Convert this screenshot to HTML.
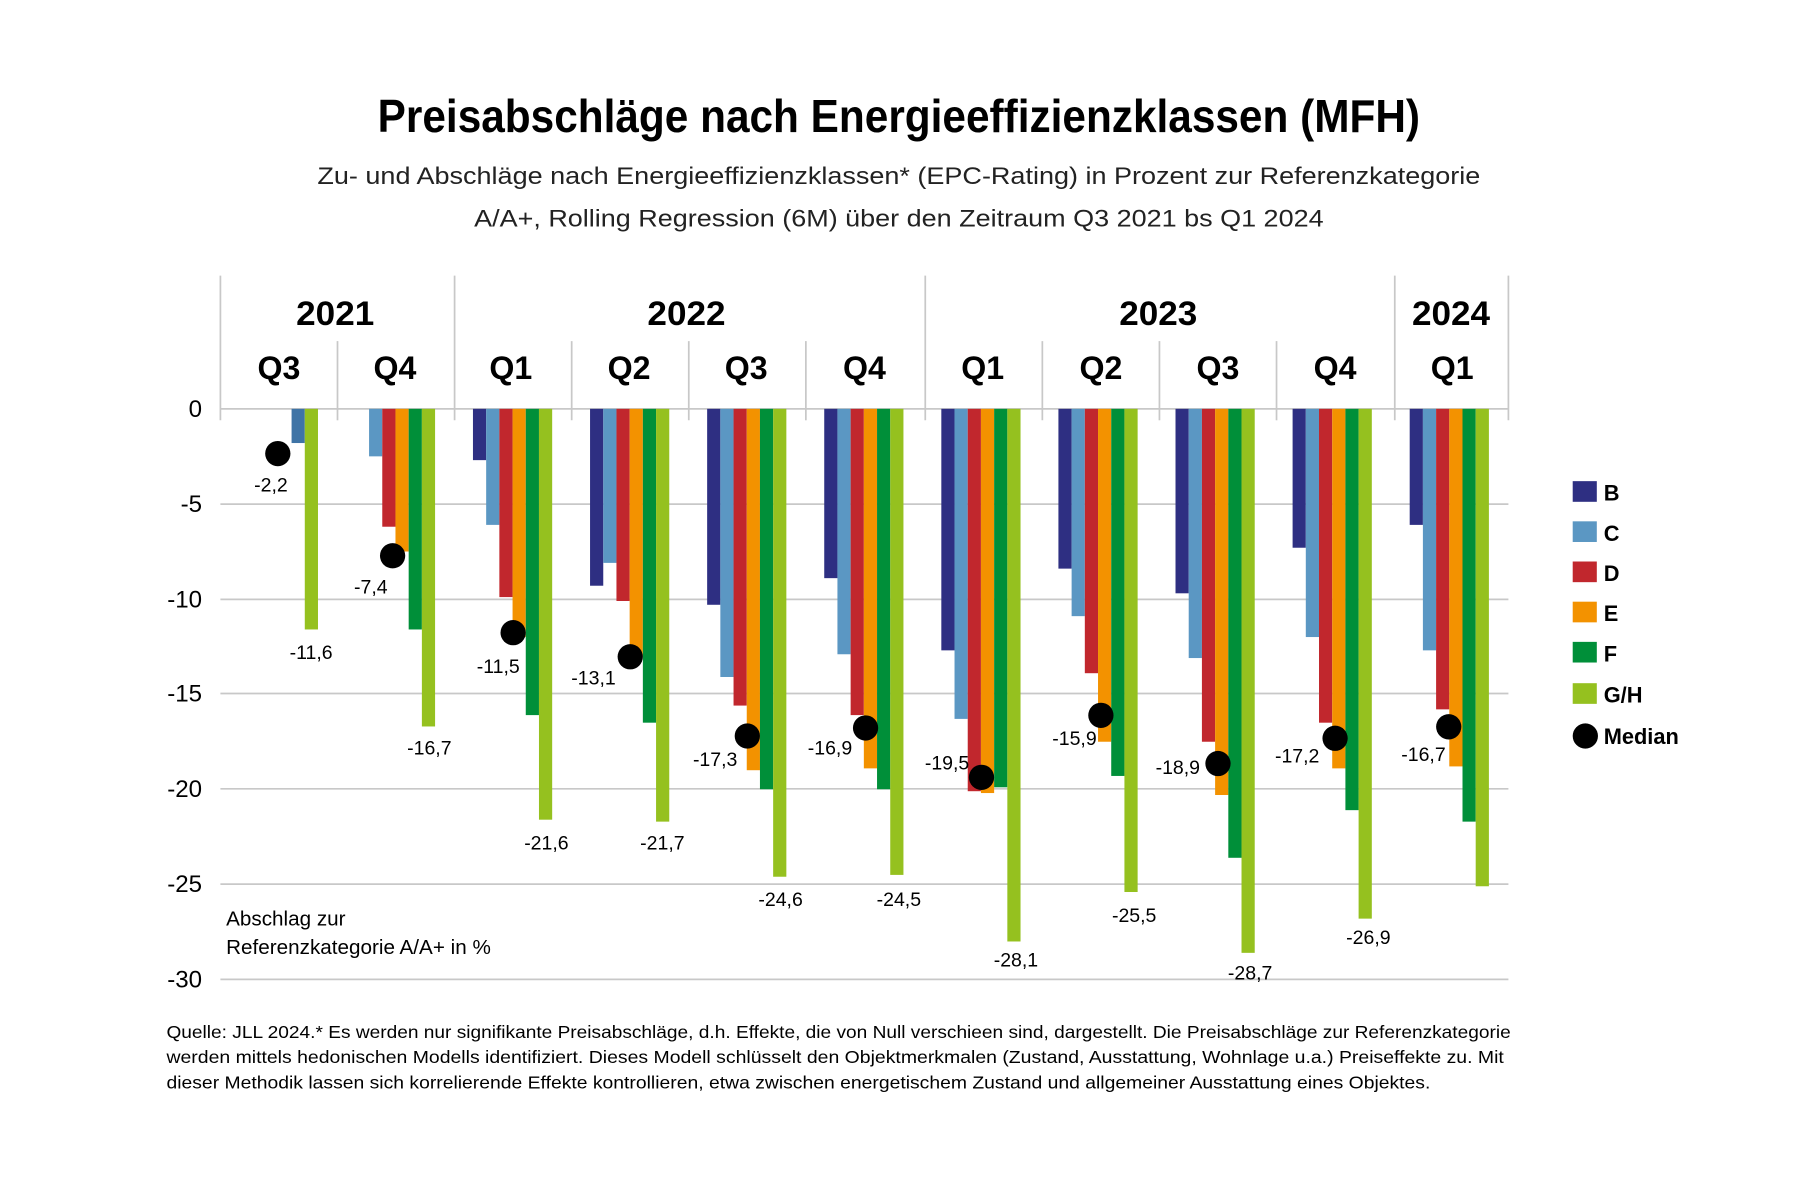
<!DOCTYPE html>
<html><head><meta charset="utf-8"><style>html,body{margin:0;padding:0;background:#fff}svg{display:block}</style></head>
<body>
<svg width="1800" height="1185" viewBox="0 0 1568 1032" xmlns="http://www.w3.org/2000/svg" font-family="Liberation Sans, sans-serif">
<rect width="1568" height="1032" fill="#fff"/>
<text x="783" y="115" text-anchor="middle" font-size="40" font-weight="bold" textLength="908" lengthAdjust="spacingAndGlyphs">Preisabschläge nach Energieeffizienzklassen (MFH)</text>
<text x="783" y="160" text-anchor="middle" font-size="21" fill="#222" textLength="1013" lengthAdjust="spacingAndGlyphs">Zu- und Abschläge nach Energieeffizienzklassen* (EPC-Rating) in Prozent zur Referenzkategorie</text>
<text x="783" y="197" text-anchor="middle" font-size="21" fill="#222" textLength="740" lengthAdjust="spacingAndGlyphs">A/A+, Rolling Regression (6M) über den Zeitraum Q3 2021 bs Q1 2024</text>
<g stroke="#c8c8c8" stroke-width="1.5">
<line x1="192" y1="356" x2="1314" y2="356"/><line x1="192" y1="439" x2="1314" y2="439"/><line x1="192" y1="522" x2="1314" y2="522"/><line x1="192" y1="604" x2="1314" y2="604"/><line x1="192" y1="687" x2="1314" y2="687"/><line x1="192" y1="770" x2="1314" y2="770"/><line x1="192" y1="853" x2="1314" y2="853"/>
<line x1="192" y1="240" x2="192" y2="366"/><line x1="396" y1="240" x2="396" y2="366"/><line x1="806" y1="240" x2="806" y2="366"/><line x1="1215" y1="240" x2="1215" y2="366"/><line x1="1314" y1="240" x2="1314" y2="366"/>
<line x1="294" y1="297" x2="294" y2="366"/><line x1="498" y1="297" x2="498" y2="366"/><line x1="600" y1="297" x2="600" y2="366"/><line x1="702" y1="297" x2="702" y2="366"/><line x1="908" y1="297" x2="908" y2="366"/><line x1="1010" y1="297" x2="1010" y2="366"/><line x1="1112" y1="297" x2="1112" y2="366"/>
</g>
<g font-size="30" font-weight="bold" text-anchor="middle">
<text x="292" y="283" textLength="68" lengthAdjust="spacingAndGlyphs">2021</text><text x="598" y="283" textLength="68" lengthAdjust="spacingAndGlyphs">2022</text><text x="1009" y="283" textLength="68" lengthAdjust="spacingAndGlyphs">2023</text><text x="1264" y="283" textLength="68" lengthAdjust="spacingAndGlyphs">2024</text>
</g>
<g font-size="28" font-weight="bold" text-anchor="middle">
<text x="243" y="330">Q3</text><text x="344" y="330">Q4</text><text x="445" y="330">Q1</text><text x="548" y="330">Q2</text><text x="650" y="330">Q3</text><text x="753" y="330">Q4</text><text x="856" y="330">Q1</text><text x="959" y="330">Q2</text><text x="1061" y="330">Q3</text><text x="1163" y="330">Q4</text><text x="1265" y="330">Q1</text>
</g>
<g font-size="21" text-anchor="end">
<text x="176" y="363">0</text><text x="176" y="446">-5</text><text x="176" y="529">-10</text><text x="176" y="611">-15</text><text x="176" y="694">-20</text><text x="176" y="777">-25</text><text x="176" y="860">-30</text>
</g>
<g>
<rect x="254" y="356" width="11.5" height="29.8" fill="#3f74a6"/><rect x="265.5" y="356" width="11.5" height="192.2" fill="#95c11f"/>
<rect x="321.5" y="356" width="11.5" height="41.4" fill="#5b97c3"/><rect x="333" y="356" width="11.5" height="102.7" fill="#c1272d"/><rect x="344.5" y="356" width="11.5" height="124.3" fill="#f39200"/><rect x="356" y="356" width="11.5" height="192.2" fill="#008f39"/><rect x="367.5" y="356" width="11.5" height="276.7" fill="#95c11f"/>
<rect x="412" y="356" width="11.5" height="44.7" fill="#2e2f82"/><rect x="423.5" y="356" width="11.5" height="101.1" fill="#5b97c3"/><rect x="435" y="356" width="11.5" height="164" fill="#c1272d"/><rect x="446.5" y="356" width="11.5" height="198.8" fill="#f39200"/><rect x="458" y="356" width="11.5" height="266.8" fill="#008f39"/><rect x="469.5" y="356" width="11.5" height="357.9" fill="#95c11f"/>
<rect x="514" y="356" width="11.5" height="154.1" fill="#2e2f82"/><rect x="525.5" y="356" width="11.5" height="134.2" fill="#5b97c3"/><rect x="537" y="356" width="11.5" height="167.4" fill="#c1272d"/><rect x="548.5" y="356" width="11.5" height="215.4" fill="#f39200"/><rect x="560" y="356" width="11.5" height="273.4" fill="#008f39"/><rect x="571.5" y="356" width="11.5" height="359.6" fill="#95c11f"/>
<rect x="616" y="356" width="11.5" height="170.7" fill="#2e2f82"/><rect x="627.5" y="356" width="11.5" height="233.6" fill="#5b97c3"/><rect x="639" y="356" width="11.5" height="258.5" fill="#c1272d"/><rect x="650.5" y="356" width="11.5" height="314.8" fill="#f39200"/><rect x="662" y="356" width="11.5" height="331.4" fill="#008f39"/><rect x="673.5" y="356" width="11.5" height="407.6" fill="#95c11f"/>
<rect x="718" y="356" width="11.5" height="147.5" fill="#2e2f82"/><rect x="729.5" y="356" width="11.5" height="213.8" fill="#5b97c3"/><rect x="741" y="356" width="11.5" height="266.8" fill="#c1272d"/><rect x="752.5" y="356" width="11.5" height="313.2" fill="#f39200"/><rect x="764" y="356" width="11.5" height="331.4" fill="#008f39"/><rect x="775.5" y="356" width="11.5" height="406" fill="#95c11f"/>
<rect x="820" y="356" width="11.5" height="210.4" fill="#2e2f82"/><rect x="831.5" y="356" width="11.5" height="270.1" fill="#5b97c3"/><rect x="843" y="356" width="11.5" height="333.1" fill="#c1272d"/><rect x="854.5" y="356" width="11.5" height="334.7" fill="#f39200"/><rect x="866" y="356" width="11.5" height="329.7" fill="#008f39"/><rect x="877.5" y="356" width="11.5" height="464" fill="#95c11f"/>
<rect x="922" y="356" width="11.5" height="139.2" fill="#2e2f82"/><rect x="933.5" y="356" width="11.5" height="180.6" fill="#5b97c3"/><rect x="945" y="356" width="11.5" height="230.3" fill="#c1272d"/><rect x="956.5" y="356" width="11.5" height="290" fill="#f39200"/><rect x="968" y="356" width="11.5" height="319.8" fill="#008f39"/><rect x="979.5" y="356" width="11.5" height="420.9" fill="#95c11f"/>
<rect x="1024" y="356" width="11.5" height="160.7" fill="#2e2f82"/><rect x="1035.5" y="356" width="11.5" height="217.1" fill="#5b97c3"/><rect x="1047" y="356" width="11.5" height="290" fill="#c1272d"/><rect x="1058.5" y="356" width="11.5" height="336.4" fill="#f39200"/><rect x="1070" y="356" width="11.5" height="391.1" fill="#008f39"/><rect x="1081.5" y="356" width="11.5" height="473.9" fill="#95c11f"/>
<rect x="1126" y="356" width="11.5" height="121" fill="#2e2f82"/><rect x="1137.5" y="356" width="11.5" height="198.8" fill="#5b97c3"/><rect x="1149" y="356" width="11.5" height="273.4" fill="#c1272d"/><rect x="1160.5" y="356" width="11.5" height="313.2" fill="#f39200"/><rect x="1172" y="356" width="11.5" height="349.6" fill="#008f39"/><rect x="1183.5" y="356" width="11.5" height="444.1" fill="#95c11f"/>
<rect x="1228" y="356" width="11.5" height="101.1" fill="#2e2f82"/><rect x="1239.5" y="356" width="11.5" height="210.4" fill="#5b97c3"/><rect x="1251" y="356" width="11.5" height="261.8" fill="#c1272d"/><rect x="1262.5" y="356" width="11.5" height="311.5" fill="#f39200"/><rect x="1274" y="356" width="11.5" height="359.6" fill="#008f39"/><rect x="1285.5" y="356" width="11.5" height="415.9" fill="#95c11f"/>
</g>
<g fill="#000">
<circle cx="242" cy="395" r="11"/><circle cx="342" cy="484" r="11"/><circle cx="447" cy="551" r="11"/><circle cx="549" cy="572" r="11"/><circle cx="651" cy="641" r="11"/><circle cx="754" cy="634" r="11"/><circle cx="855" cy="677" r="11"/><circle cx="959" cy="623" r="11"/><circle cx="1061" cy="665" r="11"/><circle cx="1163" cy="643" r="11"/><circle cx="1262" cy="633" r="11"/>
</g>
<g font-size="17" text-anchor="middle">
<text x="236" y="428">-2,2</text><text x="323" y="517">-7,4</text><text x="434" y="586">-11,5</text><text x="517" y="596">-13,1</text><text x="623" y="667">-17,3</text><text x="723" y="657">-16,9</text><text x="825" y="670">-19,5</text><text x="936" y="649">-15,9</text><text x="1026" y="674">-18,9</text><text x="1130" y="664">-17,2</text><text x="1240" y="663">-16,7</text>
<text x="271" y="574">-11,6</text><text x="374" y="657">-16,7</text><text x="476" y="740">-21,6</text><text x="577" y="740">-21,7</text><text x="680" y="789">-24,6</text><text x="783" y="789">-24,5</text><text x="885" y="842">-28,1</text><text x="988" y="803">-25,5</text><text x="1089" y="853">-28,7</text><text x="1192" y="822">-26,9</text>
</g>
<g font-size="18">
<text x="197" y="806">Abschlag zur</text><text x="197" y="831">Referenzkategorie A/A+ in %</text>
</g>
<g font-size="19" font-weight="bold">
<rect x="1370" y="419" width="21" height="18" fill="#2e2f82"/><text x="1397" y="436">B</text>
<rect x="1370" y="454" width="21" height="18" fill="#5b97c3"/><text x="1397" y="471">C</text>
<rect x="1370" y="489" width="21" height="18" fill="#c1272d"/><text x="1397" y="506">D</text>
<rect x="1370" y="524" width="21" height="18" fill="#f39200"/><text x="1397" y="541">E</text>
<rect x="1370" y="559" width="21" height="18" fill="#008f39"/><text x="1397" y="576">F</text>
<rect x="1370" y="595" width="21" height="18" fill="#95c11f"/><text x="1397" y="612">G/H</text>
<circle cx="1381" cy="641" r="11" fill="#000"/><text x="1397" y="648">Median</text>
</g>
<g font-size="15">
<text x="145" y="904" textLength="1171" lengthAdjust="spacingAndGlyphs">Quelle: JLL 2024.* Es werden nur signifikante Preisabschläge, d.h. Effekte, die von Null verschieen sind, dargestellt. Die Preisabschläge zur Referenzkategorie</text>
<text x="145" y="926" textLength="1165" lengthAdjust="spacingAndGlyphs">werden mittels hedonischen Modells identifiziert. Dieses Modell schlüsselt den Objektmerkmalen (Zustand, Ausstattung, Wohnlage u.a.) Preiseffekte zu. Mit</text>
<text x="145" y="948" textLength="1101" lengthAdjust="spacingAndGlyphs">dieser Methodik lassen sich korrelierende Effekte kontrollieren, etwa zwischen energetischem Zustand und allgemeiner Ausstattung eines Objektes.</text>
</g>
</svg>
</body></html>
